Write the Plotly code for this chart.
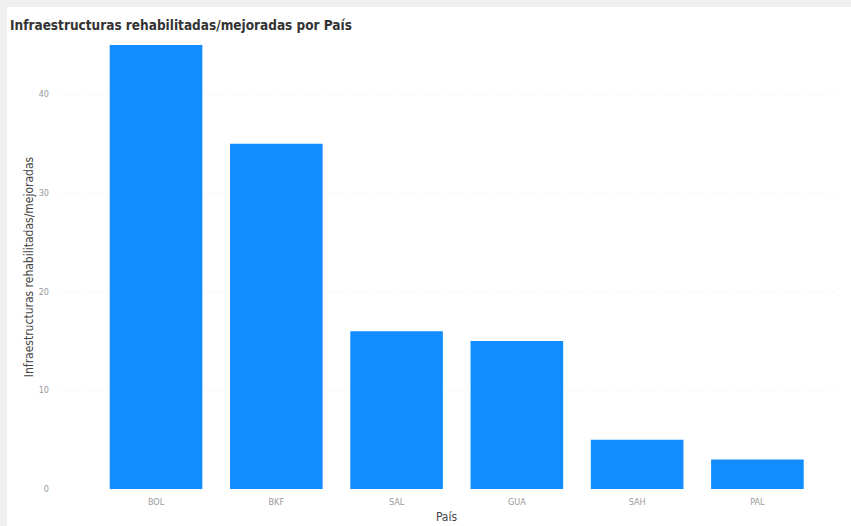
import plotly.graph_objects as go

# data
paises = ["BOL", "BKF", "SAL", "GUA", "SAH", "PAL"]
infraestructuras = [45, 35, 16, 15, 5, 3]

W, H = 851, 526
ml, mr, mt, mb = 58, 16, 45, 37
pw, ph = W - ml - mr, H - mt - mb

font_family = "DejaVu Sans Condensed, Roboto, Arial"

fig = go.Figure(
    go.Bar(
        x=paises,
        y=infraestructuras,
        marker=dict(color="#118DFF", line=dict(width=0)),
        width=0.77,
    )
)

# white card on a light grey page
fig.add_shape(
    type="rect", xref="paper", yref="paper", layer="below",
    x0=(7 - ml) / pw, x1=(W + 2 - ml) / pw,
    y0=-(mb + 2) / ph, y1=(H - 7 - mb) / ph,
    fillcolor="white", line=dict(width=0),
)

fig.update_layout(
    width=W, height=H,
    margin=dict(l=ml, r=mr, t=mt, b=mb, autoexpand=False),
    paper_bgcolor="#F0F0F0",
    plot_bgcolor="rgba(0,0,0,0)",
    font=dict(family=font_family, color="#999999", size=9),
    title=dict(
        text="Infraestructuras rehabilitadas/mejoradas por País",
        xref="container", yref="container",
        x=10 / W, xanchor="left",
        y=1 - 25 / H, yanchor="middle",
        font=dict(family=font_family, size=13.5, color="#333333", weight=600),
    ),
    showlegend=False,
    bargap=0.23,
)

fig.update_xaxes(
    range=[-0.815, 5.645],
    automargin=False,
    showgrid=False, zeroline=False, showline=False,
    ticks="", ticklabelstandoff=6,
    tickfont=dict(size=9, color="#999999"),
    title=dict(text="País", standoff=6,
               font=dict(family=font_family, size=12, color="#444444")),
)

fig.update_yaxes(
    range=[0, 45],
    automargin=False,
    tickvals=[0, 10, 20, 30, 40],
    showgrid=True, gridcolor="#F4F4F4", griddash="dot", gridwidth=1,
    zeroline=False, showline=False,
    ticks="", ticklabelstandoff=8,
    tickfont=dict(size=9, color="#999999"),
    title=dict(text="Infraestructuras rehabilitadas/mejoradas", standoff=2,
               font=dict(family=font_family, size=12, color="#444444")),
)

# drop the browser's default body margin so the figure sits at the page corner
fig.write_html(
    "out.html",
    config={"displayModeBar": False},
    post_script="document.body.style.margin='0';",
)
